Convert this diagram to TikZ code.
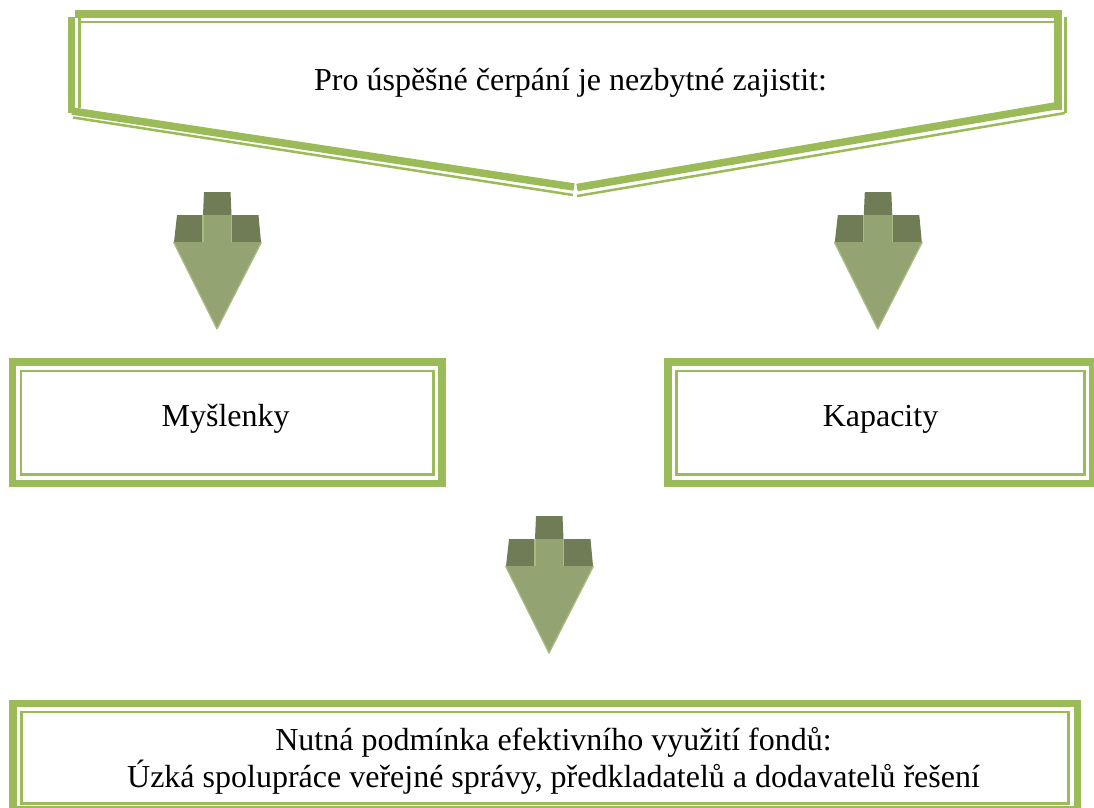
\documentclass[tikz,border=0pt]{standalone}
\usepackage{fontspec}
\setmainfont{Liberation Serif}
\definecolor{frame}{HTML}{9BBB59}
\definecolor{arrowbody}{HTML}{93A472}
\definecolor{arrowdark}{HTML}{6F7C55}
\definecolor{arrowedge}{HTML}{A8BC82}
% 3D block arrow pointing down; #1 = centre x, #2 = top y
\newcommand{\downblock}[2]{%
  \begin{scope}[shift={(#1,#2)}]
    \fill[arrowdark] (-13.5,0) -- (13,0) -- (14,23) -- (-14.5,23) -- cycle;
    \fill[arrowdark] (-40.5,23) -- (-14.5,23) -- (-14.5,50) -- (-43.5,50) -- cycle;
    \fill[arrowdark] (14,23) -- (41,23) -- (43.5,50) -- (14,50) -- cycle;
    \fill[arrowbody] (-14.5,23) rectangle (14,50);
    \draw[arrowedge,line width=1.2pt] (-14.5,23) -- (-14.5,50) (14,23) -- (14,50);
    \fill[arrowbody] (-44,50) -- (44,50) -- (-0.5,137) -- cycle;
    \draw[arrowedge,line width=1.3pt,line join=round] (-44,50) -- (-0.5,137) -- (44,50);
  \end{scope}}
\begin{document}
\begin{tikzpicture}[x=1pt,y=-1pt,
  thickline/.style={draw=frame,line width=7.5pt,line join=miter},
  thinline/.style={draw=frame,line width=2.5pt},
  label/.style={font=\fontsize{32}{37}\selectfont,anchor=base,inner sep=0pt,text=black}]
\useasboundingbox (0,0) rectangle (1094,807);
\clip (0,0) rectangle (1094,807);

% heading banner: thin companion lines first, thick lines on top
\draw[thinline] (80,22) -- (1054,22);
\draw[thinline] (79.5,18) -- (79.5,108);
\draw[thinline] (1065.5,17) -- (1065.5,113);
\draw[thinline] (73,117.5) -- (573,195);
\draw[thinline] (577,196) -- (1065,113);
\draw[thickline] (75,14) -- (1058,14) -- (1058,110);
\draw[thickline] (71.5,17) -- (71.5,113);
\draw[thickline] (72,111) -- (574,187);
\draw[thickline] (1055,106) -- (577,187.5);
\node[label] (intro) at (570.5,90) {Pro úspěšné čerpání je nezbytné zajistit:};

% block arrows
\downblock{217.5}{192}
\downblock{878.3}{192}
\downblock{549.5}{516}

% left box
\draw[thickline] (12.5,362) rectangle (442,483.5);
\draw[thinline] (21,371) rectangle (433.5,474.5);
\node[label] (ideas) at (225.7,426) {Myšlenky};

% right box
\draw[thickline] (668,362) rectangle (1093,483.5);
\draw[thinline] (676.5,371) rectangle (1084.5,474.5);
\node[label] (capacity) at (880.5,426) {Kapacity};

% bottom box
\draw[thickline] (13,703.5) rectangle (1077.5,810);
\draw[thinline] (21.5,712) rectangle (1068.5,803.5);
\node[label] (condition) at (553.5,750) {Nutná podmínka efektivního využití fondů:};
\node[label] (cooperation) at (553.5,787) {Úzká spolupráce veřejné správy, předkladatelů a dodavatelů řešení};
\end{tikzpicture}
\end{document}
